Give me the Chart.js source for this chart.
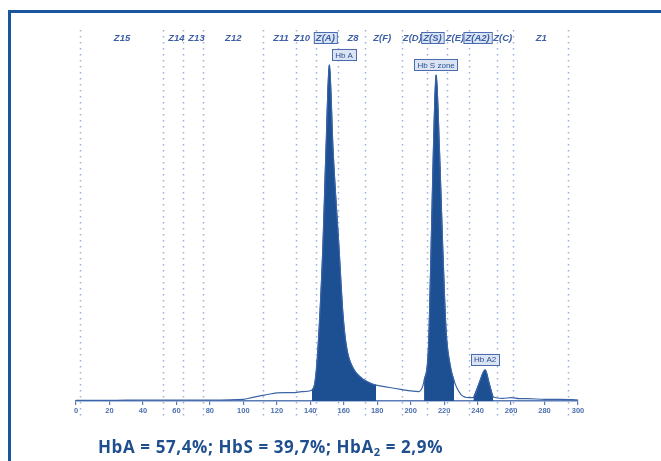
<!DOCTYPE html>
<html>
<head>
<meta charset="utf-8">
<script src="https://cdn.jsdelivr.net/npm/chart.js"></script>
<style>
  body { margin: 0; background: #fff; }
  #wrap { position: relative; width: 661px; height: 461px; }
  #result {
    position: absolute; left: 98px; top: 435px;
    font: bold 17px "Open Sans", "Noto Sans", sans-serif;
    letter-spacing: 0.6px;
    color: #1f4f8f; white-space: nowrap;
  }
  #result sub { font-size: 11px; vertical-align: -3px; line-height: 0; }
</style>
</head>
<body>
<div id="wrap">
  <canvas id="myChart" width="661" height="461"></canvas>
  <div id="result">HbA = 57,4%; HbS = 39,7%; HbA<sub>2</sub> = 2,9%</div>
</div>

<script>
// electropherogram trace (x = position, y = absorbance, relative)
const traceX = [0, 20, 40, 60, 80, 100, 105, 110, 115, 120, 125, 130, 135, 141, 142.9, 144.6, 147.5, 149.4, 151.4,
                153.6, 157.2, 159.6, 161.8, 165.6, 170.8, 175, 179.3, 185, 190, 195, 200, 205, 208, 210.6, 212.2,
                213.6, 215.2, 217.2, 219.2, 221.2, 223.6, 226, 230, 235, 237.5, 240.9, 244.5, 246.9, 249.3, 255,
                260, 265, 270, 280, 290, 300];
const traceY = [0.2, 0.2, 0.3, 0.3, 0.3, 0.5, 1.0, 1.5, 2.0, 2.4, 2.5, 2.5, 2.8, 3.2, 5.9, 15.7, 45.3, 74.9, 100,
                74.9, 45.3, 25.4, 15.7, 9.8, 6.8, 5.5, 4.7, 4.2, 3.8, 3.4, 3.0, 2.8, 5.9, 15.7, 45.3,
                74.9, 97, 74.9, 45.3, 20.7, 10.7, 5.9, 2.0, 1.0, 1.0, 5.3, 9.3, 5.3, 1.2, 0.8,
                1.0, 0.7, 0.7, 0.5, 0.5, 0.3];

// shaded peaks: [from, to]
const peakRanges = [[141, 180], [206, 228], [237, 250]];
const peakNames = ['Hb A', 'Hb S zone', 'Hb A2'];
const peakLabelX = [160.2, 215.2, 244.5];
const peakLabelY = [100, 97, 9.3];

// zones
const zoneLines = [2.4, 52, 64, 76, 112, 131.5, 143.5, 156.6, 172.7, 195, 210, 222, 235, 251.6, 261, 294];
const zoneNames = ['Z15', 'Z14', 'Z13', 'Z12', 'Z11', 'Z10', 'Z(A)', 'Z8', 'Z(F)', 'Z(D)', 'Z(S)', 'Z(E)', 'Z(A2)', 'Z(C)', 'Z1'];
const zoneLabelX = [27.5, 60, 72, 94, 122.5, 135, 149, 165.5, 183, 201, 213, 226.5, 240, 255, 278];
const boxedZones = ['Z(A)', 'Z(S)', 'Z(A2)'];

const blue = '#1d4f93';

const points = traceX.map((x, i) => ({x: x, y: traceY[i]}));
const peakSets = peakRanges.map(r => ({
    data: points.filter(p => p.x >= r[0] && p.x <= r[1]),
    borderColor: blue,
    borderWidth: 1,
    backgroundColor: blue,
    fill: 'origin',
    pointRadius: 0,
    cubicInterpolationMode: 'monotone'
}));

const zonePlugin = {
    id: 'zones',
    beforeDatasetsDraw(chart) {
        const ctx = chart.ctx;
        const xs = chart.scales.x;
        ctx.save();
        ctx.strokeStyle = '#9bb0d8';
        ctx.lineWidth = 1.5;
        ctx.setLineDash([1.5, 4.5]);
        zoneLines.forEach(v => {
            const px = Math.round(xs.getPixelForValue(v)) + 0.5;
            ctx.beginPath();
            ctx.moveTo(px, 30);
            ctx.lineTo(px, 420);
            ctx.stroke();
        });
        ctx.restore();
    },
    afterDraw(chart) {
        const ctx = chart.ctx;
        const xs = chart.scales.x;
        const ys = chart.scales.y;
        ctx.save();
        // frame
        ctx.strokeStyle = '#1a56a0';
        ctx.lineWidth = 3;
        ctx.strokeRect(9.5, 11.5, 700, 500);

        // zone labels
        ctx.textAlign = 'center';
        ctx.textBaseline = 'middle';
        ctx.font = 'italic bold 9.5px "Liberation Sans", sans-serif';
        zoneNames.forEach((n, i) => {
            const px = xs.getPixelForValue(zoneLabelX[i]);
            if (boxedZones.includes(n)) {
                const w = ctx.measureText(n).width + 4;
                ctx.fillStyle = '#dbe4f3';
                ctx.fillRect(px - w / 2, 32, w, 12);
                ctx.strokeStyle = '#4a6bb0';
                ctx.lineWidth = 1;
                ctx.setLineDash([]);
                ctx.strokeRect(px - w / 2 + 0.5, 32.5, w, 11);
            }
            ctx.fillStyle = '#3d5fa5';
            ctx.fillText(n, px, 38.5);
        });

        // peak labels
        ctx.font = '8px "Liberation Sans", sans-serif';
        peakNames.forEach((n, i) => {
            const px = xs.getPixelForValue(peakLabelX[i]);
            const py = ys.getPixelForValue(peakLabelY[i]) - 10;
            const w = ctx.measureText(n).width + 6;
            ctx.fillStyle = '#dbe4f3';
            ctx.fillRect(px - w / 2, py - 6, w, 12);
            ctx.strokeStyle = '#4a6bb0';
            ctx.lineWidth = 1;
            ctx.strokeRect(Math.round(px - w / 2) + 0.5, Math.round(py - 6) + 0.5, Math.round(w), 11);
            ctx.fillStyle = '#2d4f95';
            ctx.fillText(n, px, py + 0.5);
        });
        ctx.restore();
    }
};

const myChart = new Chart(document.getElementById('myChart'), {
    type: 'line',
    data: {
        datasets: [{
            data: points,
            borderColor: '#3a64a8',
            borderWidth: 1.2,
            fill: false,
            pointRadius: 0,
            cubicInterpolationMode: 'monotone'
        }].concat(peakSets)
    },
    options: {
        responsive: false,
        animation: false,
        layout: { padding: { left: 76, right: 83, top: 48, bottom: 45 } },
        plugins: { legend: { display: false }, tooltip: { enabled: false } },
        scales: {
            x: {
                type: 'linear',
                min: 0,
                max: 300,
                ticks: {
                    stepSize: 20,
                    padding: 1,
                    color: '#4d6fae',
                    font: { size: 7.5, weight: 'bold', family: 'Liberation Sans' }
                },
                grid: { drawOnChartArea: false, tickLength: 4, color: '#5a7bb5', lineWidth: 1.2 },
                border: { color: '#5a7bb5', width: 1.5 }
            },
            y: { display: false, min: 0, max: 105 }
        }
    },
    plugins: [zonePlugin]
});
</script>
</body>
</html>
